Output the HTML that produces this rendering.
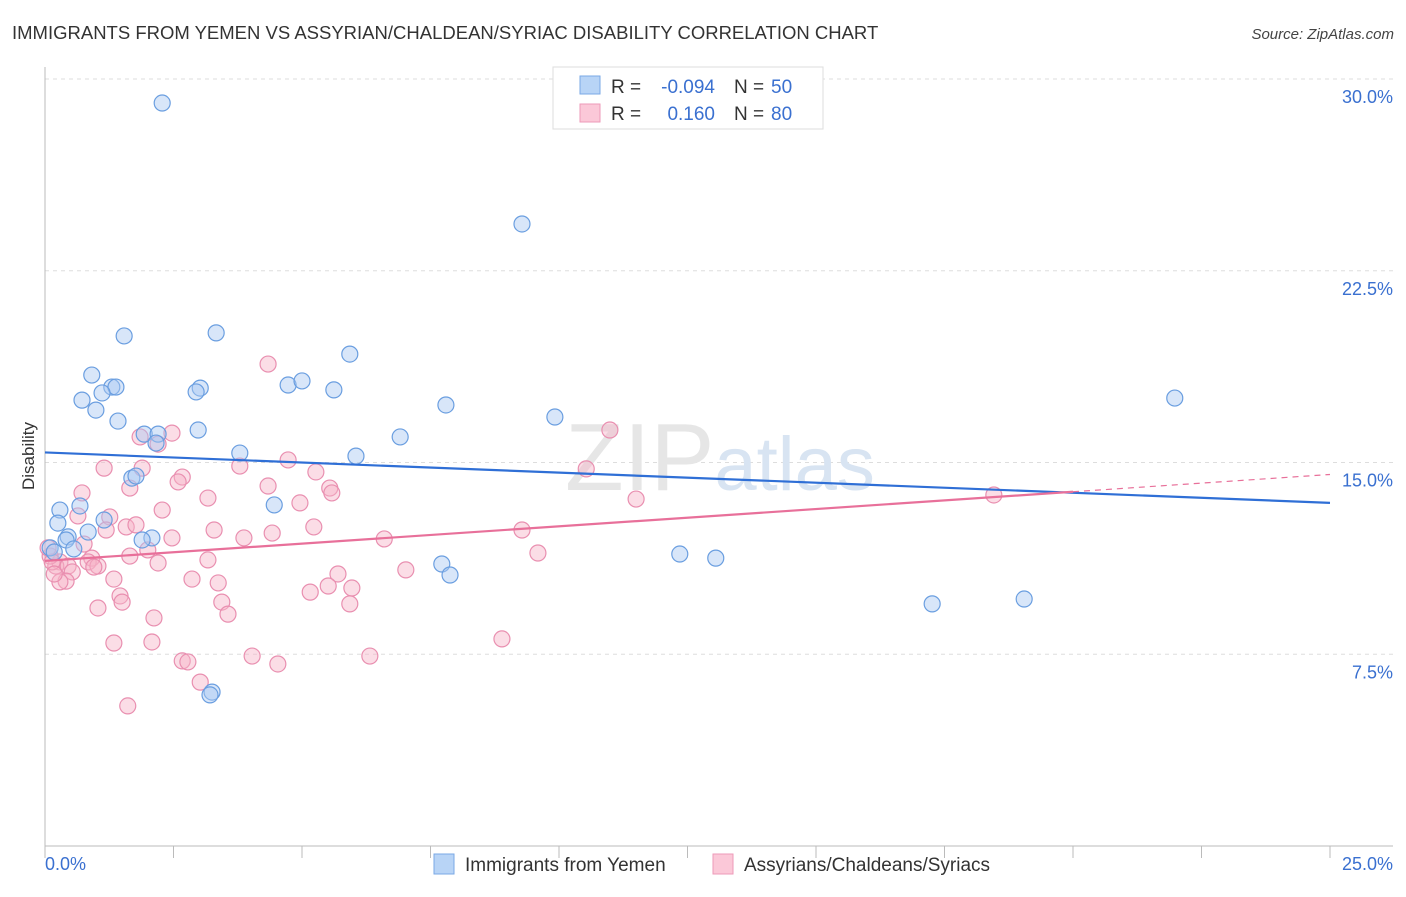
<!DOCTYPE html>
<html><head><meta charset="utf-8"><style>
body{margin:0;background:#fff;font-family:"Liberation Sans",sans-serif;}
svg text{font-family:"Liberation Sans",sans-serif;}
</style></head><body>
<svg id="chart" width="1406" height="892" xmlns="http://www.w3.org/2000/svg">
<text x="12" y="39" font-size="18.5" fill="#333">IMMIGRANTS FROM YEMEN VS ASSYRIAN/CHALDEAN/SYRIAC DISABILITY CORRELATION CHART</text>
<text x="1394" y="39" font-size="15" fill="#444" font-style="italic" text-anchor="end">Source: ZipAtlas.com</text>
<g id="grid"></g>
<text x="720" y="490" font-size="96" text-anchor="middle" fill="#e6e6e6" font-family="Liberation Serif">ZIP<tspan fill="#d8e4f2" font-family="Liberation Sans" font-size="76">atlas</tspan></text>
<g id="axes"></g>
<g id="pink"></g>
<g id="blue"></g>
<g id="trends"></g>
<text transform="translate(34,456) rotate(-90)" font-size="17" fill="#333" text-anchor="middle">Disability</text>
<g>
<rect x="553" y="67" width="270" height="62" fill="#fff" stroke="#ddd"/>
<rect x="580" y="76" width="20" height="18" fill="#b8d4f6" stroke="#7aa8e6"/>
<rect x="580" y="104" width="20" height="18" fill="#fbc8d8" stroke="#ee9ab8"/>
<text x="611" y="93" font-size="19" fill="#333">R =</text>
<text x="715" y="93" font-size="19" fill="#3a70d0" text-anchor="end">-0.094</text>
<text x="734" y="93" font-size="19" fill="#333">N =</text>
<text x="771" y="93" font-size="19" fill="#3a70d0">50</text>
<text x="611" y="120" font-size="19" fill="#333">R =</text>
<text x="715" y="120" font-size="19" fill="#3a70d0" text-anchor="end">0.160</text>
<text x="734" y="120" font-size="19" fill="#333">N =</text>
<text x="771" y="120" font-size="19" fill="#3a70d0">80</text>
</g>
<g>
<rect x="434" y="854" width="20" height="20" fill="#b8d4f6" stroke="#7aa8e6"/>
<text x="465" y="871" font-size="19" fill="#333">Immigrants from Yemen</text>
<rect x="713" y="854" width="20" height="20" fill="#fbc8d8" stroke="#ee9ab8"/>
<text x="744" y="871" font-size="19" fill="#333">Assyrians/Chaldeans/Syriacs</text>
</g>
</svg>
<script>
const xTickLabels=["0.0%","25.0%"];
const yTicks=[7.5,15,22.5,30];
const yTickLabels=["7.5%","15.0%","22.5%","30.0%"];
const blueX=[2.28,9.28,1.54,3.33,5.93,0.91,1.30,1.38,1.11,0.72,0.99,3.02,2.94,4.73,5.00,5.62,7.80,1.42,1.93,2.20,2.16,2.98,6.91,9.92,21.98,3.79,6.05,1.69,1.77,4.46,0.68,0.29,0.25,1.15,0.84,0.45,0.41,2.08,1.89,0.56,0.10,7.72,7.88,12.35,13.05,17.26,19.05,3.25,3.21,0.18];
const blueY=[29.06,24.33,19.95,20.07,19.24,18.42,17.95,17.95,17.72,17.44,17.05,17.91,17.76,18.03,18.19,17.84,17.25,16.62,16.11,16.11,15.76,16.27,16.00,16.78,17.52,15.37,15.25,14.39,14.47,13.34,13.30,13.14,12.63,12.75,12.28,12.09,11.97,12.05,11.97,11.62,11.66,11.03,10.60,11.42,11.26,9.47,9.66,6.02,5.91,11.50];
const pinkX=[4.34,10.99,1.85,2.47,2.20,1.15,1.89,1.65,2.67,2.59,3.79,4.73,5.27,5.54,5.58,4.34,0.72,3.17,4.96,2.28,0.64,1.26,1.58,1.19,1.77,3.29,4.42,5.23,3.87,6.60,9.28,2.47,2.00,1.65,0.91,0.84,1.03,0.29,0.21,0.45,0.53,0.41,0.29,0.10,0.14,2.20,3.17,0.95,1.34,2.86,3.37,5.70,7.02,5.51,5.16,5.97,1.46,1.50,3.44,1.03,5.93,3.56,2.12,1.34,2.08,8.89,2.67,2.78,4.03,4.53,6.32,3.02,1.61,11.50,10.53,18.46,9.59,0.06,0.18,0.76];
const pinkY=[18.85,16.27,16.00,16.15,15.72,14.78,14.78,14.00,14.43,14.24,14.86,15.10,14.63,14.00,13.81,14.08,13.81,13.61,13.42,13.14,12.91,12.87,12.48,12.36,12.56,12.36,12.24,12.48,12.05,12.01,12.36,12.05,11.58,11.34,11.26,11.11,10.95,11.11,10.95,10.95,10.72,10.36,10.33,11.34,11.11,11.07,11.19,10.91,10.44,10.44,10.29,10.64,10.80,10.17,9.93,10.09,9.78,9.54,9.54,9.31,9.47,9.07,8.92,7.94,7.98,8.10,7.24,7.20,7.43,7.12,7.43,6.41,5.48,13.57,14.75,13.73,11.46,11.66,10.64,11.81];

const NS="http://www.w3.org/2000/svg";
const X0=45,X1=1330,Y0=846,Y30=79;
function sx(v){return X0+(v/25)*(X1-X0);}
function sy(v){return Y0-(v/30)*(Y0-Y30);}
function mk(tag,attrs,parent){const e=document.createElementNS(NS,tag);for(const k in attrs)e.setAttribute(k,attrs[k]);parent.appendChild(e);return e;}
const grid=document.getElementById('grid'),axes=document.getElementById('axes');
yTicks.forEach((t,i)=>{
  const l=mk('line',{x1:X0,x2:1393,y1:sy(t),y2:sy(t),stroke:'#ddd','stroke-dasharray':'4,4'},grid);
  
  
  const tx=mk('text',{x:1393,y:sy(t)+24,'font-size':18,fill:'#3a70d0','text-anchor':'end'},axes);
  tx.textContent=yTickLabels[i];
  
  
});
const ya=mk('line',{x1:X0,x2:X0,y1:67,y2:Y0,stroke:'#bbb'},axes);


const xa=mk('line',{x1:X0,x2:1393,y1:Y0,y2:Y0,stroke:'#bbb'},axes);


for(let i=0;i<=10;i++){
  const tk=mk('line',{x1:sx(i*2.5),x2:sx(i*2.5),y1:Y0,y2:Y0+12,stroke:'#bbb'},axes);
  
  
}
[[0,'start',45],[25,'end',1393]].forEach((d,i)=>{
  const t=mk('text',{x:d[2],y:870,'font-size':18,fill:'#3a70d0','text-anchor':d[1]},axes);
  t.textContent=xTickLabels[i];
  
  
});
function pts(xs,ys,g,fill,stroke,name){
  xs.forEach((x,i)=>{
    const c=mk('circle',{cx:sx(x),cy:sy(ys[i]),r:8,fill:fill,'fill-opacity':0.45,stroke:stroke,'stroke-width':1.2},g);
    
    
  });
}
pts(pinkX,pinkY,document.getElementById('pink'),'#f6b4c8','#e98fb0','pink-point');
pts(blueX,blueY,document.getElementById('blue'),'#a8c8f2','#6a9ee0','blue-point');
function reg(xs,ys){const n=xs.length;let mx=0,my=0;for(let i=0;i<n;i++){mx+=xs[i];my+=ys[i];}mx/=n;my/=n;let a=0,b=0;for(let i=0;i<n;i++){a+=(xs[i]-mx)*(ys[i]-my);b+=(xs[i]-mx)**2;}const s=a/b;return [my-s*mx,s];}
const tr=document.getElementById('trends');
const rb=reg(blueX,blueY),rp=reg(pinkX,pinkY);
const bl=mk('line',{x1:sx(0),y1:sy(rb[0]),x2:sx(25),y2:sy(rb[0]+rb[1]*25),stroke:'#2f6fd6','stroke-width':2.2},tr);


const pl=mk('line',{x1:sx(0),y1:sy(rp[0]),x2:sx(20),y2:sy(rp[0]+rp[1]*20),stroke:'#e8709a','stroke-width':2.2},tr);


const pd=mk('line',{x1:sx(20),y1:sy(rp[0]+rp[1]*20),x2:sx(25),y2:sy(rp[0]+rp[1]*25),stroke:'#e8709a','stroke-width':1.2,'stroke-dasharray':'6,5'},tr);


</script>
</body></html>
